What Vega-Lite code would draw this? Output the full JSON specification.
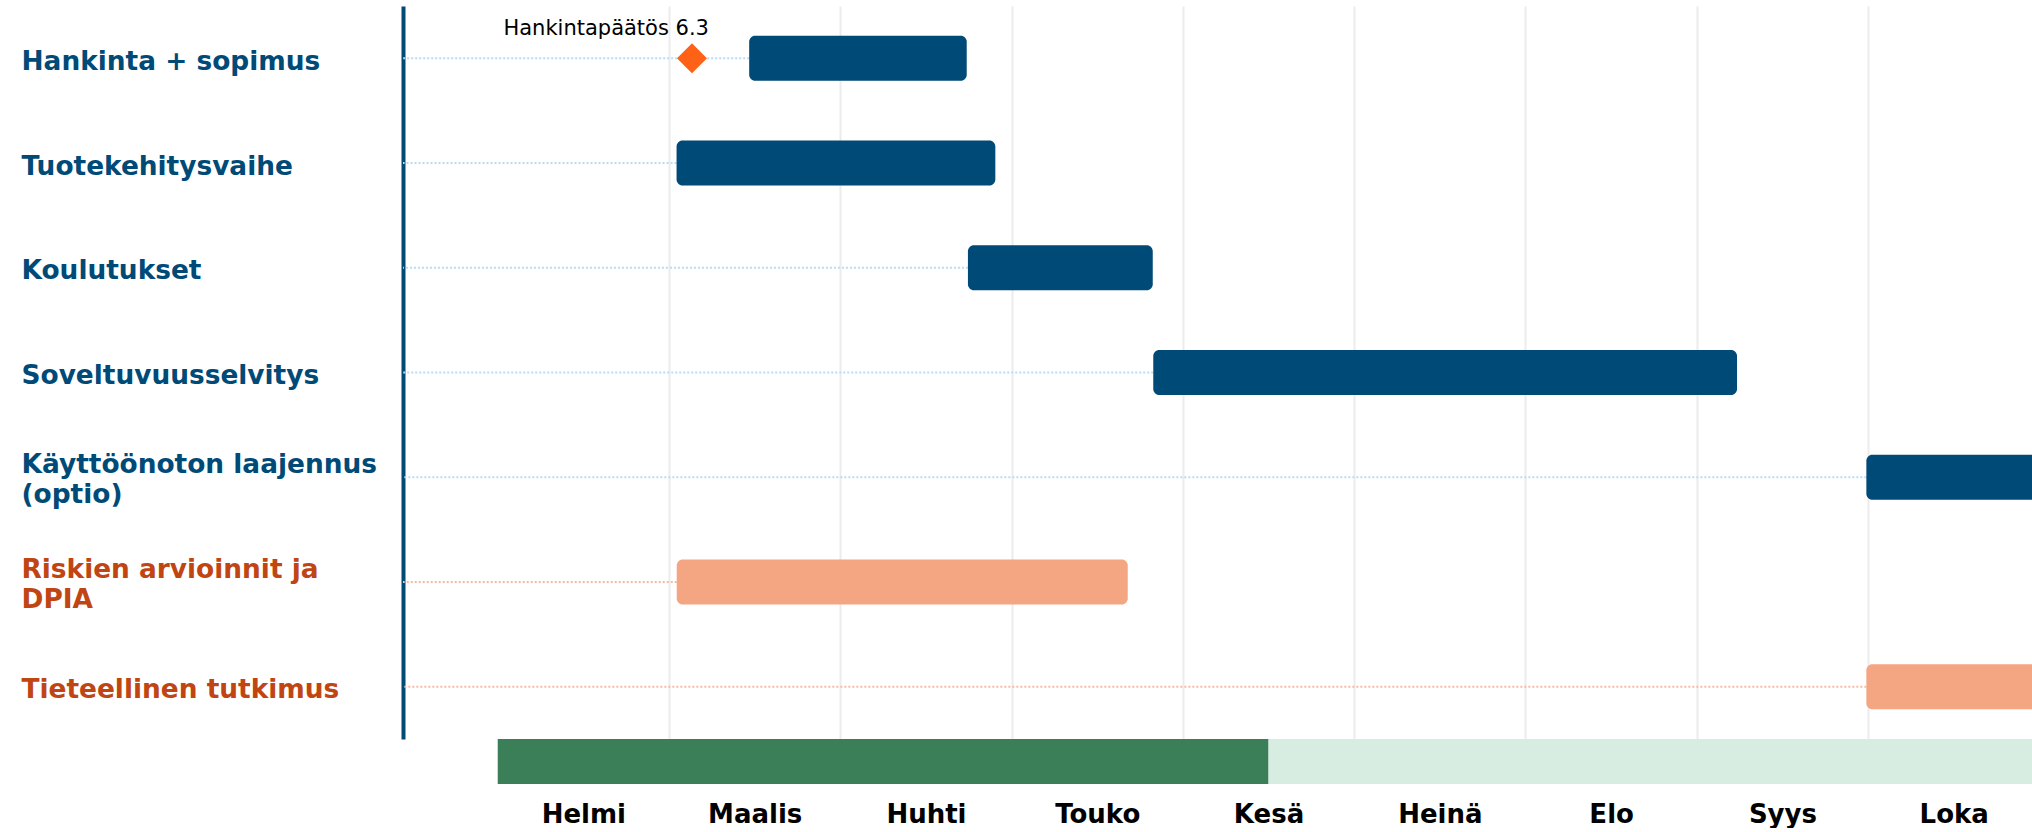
{
  "$schema": "https://vega.github.io/schema/vega-lite/v6.json",
  "background": "white",
  "padding": {"left": 21, "top": 6, "right": 0, "bottom": 0},
  "spacing": 0,
  "config": {"view": {"stroke": null}, "font": "DejaVu Sans"},
  "datasets": {
    "tasks": [
      {"task": "Hankinta + sopimus", "start": 2.468, "end": 3.738, "group": "blue"},
      {"task": "Tuotekehitysvaihe", "start": 2.044, "end": 3.905, "group": "blue"},
      {"task": "Koulutukset", "start": 3.745, "end": 4.824, "group": "blue"},
      {"task": "Soveltuvuusselvitys", "start": 4.827, "end": 8.235, "group": "blue"},
      {"task": "Käyttöönoton laajennus (optio)", "start": 8.99, "end": 10.5, "group": "blue"},
      {"task": "Riskien arvioinnit ja DPIA", "start": 2.045, "end": 4.678, "group": "orange"},
      {"task": "Tieteellinen tutkimus", "start": 8.99, "end": 10.5, "group": "orange"}
    ],
    "milestones": [
      {"task": "Hankinta + sopimus", "date": 2.134, "label": "Hankintapäätös 6.3"}
    ],
    "phases": [
      {"phase": "a", "start": 1.0, "end": 5.5},
      {"phase": "b", "start": 5.5, "end": 10.5}
    ]
  },
  "vconcat": [
    {
      "width": 1629,
      "height": 733,
      "layer": [
        {
          "data": {"name": "tasks"},
          "mark": {"type": "rule", "strokeDash": [2, 2], "strokeWidth": 2, "clip": true},
          "encoding": {
            "x": {"field": "start", "type": "quantitative"},
            "x2": {"datum": 0.2},
            "y": {"field": "task", "type": "nominal"},
            "stroke": {"field": "group", "type": "nominal", "scale": {"domain": ["blue", "orange"], "range": ["#b8dcf5", "#f7b9a0"]}, "legend": null}
          }
        },
        {
          "data": {"name": "tasks"},
          "mark": {"type": "bar", "cornerRadius": 6, "height": {"band": 0.43}, "clip": true},
          "encoding": {
            "x": {"field": "start", "type": "quantitative",
                  "scale": {"domain": [0.447, 9.957], "nice": false, "zero": false},
                  "axis": {"orient": "top", "title": null, "labels": false, "ticks": false, "tickSize": 0, "domain": false, "grid": true, "values": [2, 3, 4, 5, 6, 7, 8, 9], "gridColor": "#ececec", "gridWidth": 2}},
            "x2": {"field": "end"},
            "y": {"field": "task", "type": "nominal"},
            "fill": {"field": "group", "type": "nominal", "scale": {"domain": ["blue", "orange"], "range": ["#004a77", "#f4a582"]}, "legend": null}
          }
        },
        {
          "data": {"name": "milestones"},
          "mark": {"type": "point", "shape": "diamond", "filled": true, "size": 900, "color": "#ff6116", "opacity": 1},
          "encoding": {
            "x": {"field": "date", "type": "quantitative"},
            "y": {"field": "task", "type": "nominal"}
          }
        },
        {
          "data": {"name": "milestones"},
          "mark": {"type": "text", "align": "right", "baseline": "alphabetic", "dx": 17, "dy": -23, "fontSize": 21, "font": "DejaVu Sans", "color": "#000000"},
          "encoding": {
            "x": {"field": "date", "type": "quantitative"},
            "y": {"field": "task", "type": "nominal"},
            "text": {"field": "label", "type": "nominal"}
          }
        }
      ],
      "encoding": {
        "y": {
          "field": "task", "type": "nominal",
          "scale": {"type": "band", "domain": ["Hankinta + sopimus", "Tuotekehitysvaihe", "Koulutukset", "Soveltuvuusselvitys", "Käyttöönoton laajennus (optio)", "Riskien arvioinnit ja DPIA", "Tieteellinen tutkimus"], "paddingInner": 0, "paddingOuter": 0},
          "axis": {
            "title": null, "grid": false, "ticks": false, "tickSize": 0,
            "domain": true, "domainColor": "#004a77", "domainWidth": 4,
            "labelAlign": "left", "labelBaseline": "middle", "labelPadding": 382,
            "labelFont": "DejaVu Sans", "labelFontSize": 26.4, "labelFontWeight": "bold",
            "labelLineHeight": 30, "labelLimit": 500, "labelOverlap": false,
            "labelOffset": {"condition": {"test": "datum.value === 'Käyttöönoton laajennus (optio)' || datum.value === 'Riskien arvioinnit ja DPIA'", "value": -12}, "value": 3.5},
            "labelColor": {"condition": {"test": "datum.value === 'Riskien arvioinnit ja DPIA' || datum.value === 'Tieteellinen tutkimus'", "value": "#c04513"}, "value": "#004a77"},
            "labelExpr": "datum.value === 'Käyttöönoton laajennus (optio)' ? ['Käyttöönoton laajennus', '(optio)'] : datum.value === 'Riskien arvioinnit ja DPIA' ? ['Riskien arvioinnit ja', 'DPIA'] : datum.value"
          }
        }
      }
    },
    {
      "width": 1629,
      "height": 45,
      "data": {"name": "phases"},
      "mark": {"type": "rect", "clip": true},
      "encoding": {
        "x": {"field": "start", "type": "quantitative",
              "scale": {"domain": [0.447, 9.957], "nice": false, "zero": false},
              "axis": {"orient": "bottom", "title": null, "values": [1.5, 2.5, 3.5, 4.5, 5.5, 6.5, 7.5, 8.5, 9.5],
                       "labelExpr": "['Helmi','Maalis','Huhti','Touko','Kesä','Heinä','Elo','Syys','Loka'][floor(datum.value) - 1]",
                       "labelFont": "DejaVu Sans", "labelFontSize": 26, "labelFontWeight": "bold", "labelColor": "#000000",
                       "labelPadding": 17.5, "ticks": false, "tickSize": 0, "domain": false, "grid": false,
                       "labelFlush": false, "labelOverlap": false}},
        "x2": {"field": "end"},
        "fill": {"field": "phase", "type": "nominal", "scale": {"domain": ["a", "b"], "range": ["#3a7f58", "#d8ede1"]}, "legend": null}
      }
    }
  ],
  "resolve": {"scale": {"x": "independent", "y": "independent", "fill": "independent"}}
}
